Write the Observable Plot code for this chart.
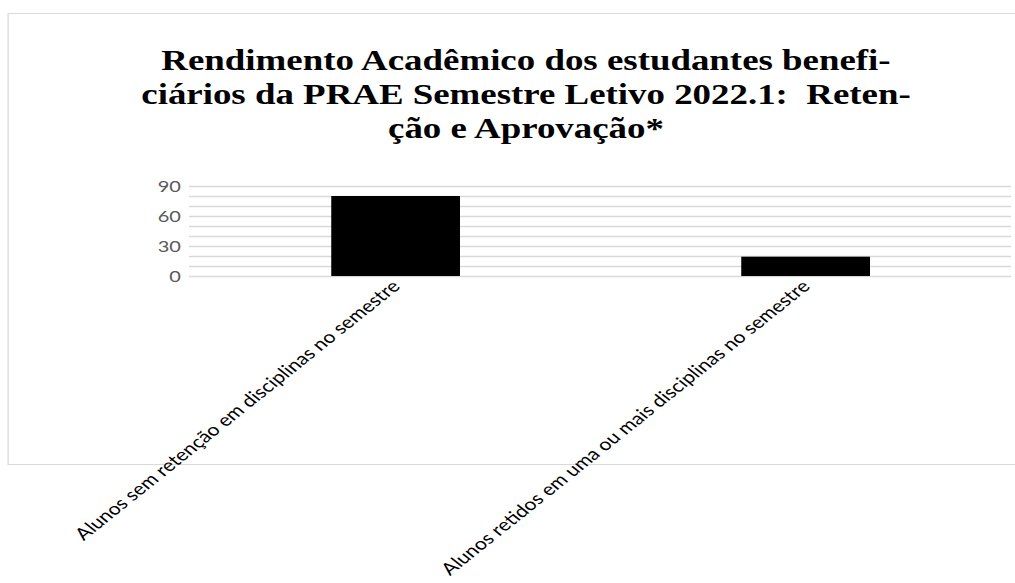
<!DOCTYPE html>
<html>
<head>
<meta charset="utf-8">
<script src="https://cdn.jsdelivr.net/npm/d3@7"></script>
<script src="https://cdn.jsdelivr.net/npm/@observablehq/plot@0.6"></script>
<style>
  html, body { margin: 0; padding: 0; background: #fff; overflow: hidden; }
  #wrap { position: relative; height: 583px; transform-origin: 0 0; }
  #frame { position: absolute; border: 1.5px solid #d9d9d9; box-sizing: border-box; }
  #title { position: absolute; font-family: "Liberation Serif", "Times New Roman", serif; font-weight: bold;
           font-size: 29.5px; line-height: 34px; text-align: center; color: #000; white-space: nowrap; }
  #chart { position: absolute; left: 0; top: 0; }
</style>
</head>
<body>
<div id="wrap">
  <div id="frame"></div>
  <div id="title"></div>
  <div id="chart"></div>
</div>
<script>
const categories = [
  "Alunos sem retenção em disciplinas no semestre",
  "Alunos retidos em uma ou mais disciplinas no semestre"
];
const values = [80, 19.3];
const gridTicks = [0, 10, 20, 30, 40, 50, 60, 70, 80, 90];
const yTickLabels = [0, 30, 60, 90];
const titleLines = [
  "Rendimento Acadêmico dos estudantes benefi-",
  "ciários da PRAE Semestre Letivo 2022.1:\u00a0 Reten-",
  "ção e Aprovação*"
];

const S = 1.25;              // horizontal stretch of the reference picture
const W = 1015 / S;
const wrap = document.getElementById("wrap");
wrap.style.width = W + "px";
wrap.style.transform = `scaleX(${S})`;

const frame = document.getElementById("frame");
frame.style.left = (8 / S) + "px";
frame.style.top = "13px";
frame.style.width = ((1080 - 8) / S) + "px";
frame.style.height = "452px";

const title = document.getElementById("title");
title.innerHTML = titleLines.map(t => `<div>${t}</div>`).join("");
const tcx = 526 / S;
title.style.left = (tcx - 400) + "px";
title.style.width = "800px";
title.style.top = "43px";

const data = categories.map((c, i) => ({cat: c, val: values[i]}));

const chart = Plot.plot({
  width: W,
  height: 583,
  marginTop: 186,
  marginBottom: 583 - 276,
  marginLeft: 189 / S,
  marginRight: 4 / S,
  style: {fontFamily: "Lato, 'Open Sans', sans-serif", fontSize: "16px", background: "transparent", overflow: "visible"},
  x: {domain: categories, paddingInner: 0.686, paddingOuter: 0.343},
  y: {domain: [0, 90]},
  marks: [
    Plot.gridY(gridTicks, {stroke: "#d9d9d9", strokeOpacity: 1, strokeWidth: 1.5}),
    Plot.barY(data, {x: "cat", y: "val", fill: "#000"}),
    Plot.axisY(yTickLabels, {tickSize: 0, tickPadding: 7, fill: "#595959", fontSize: 16, label: null}),
    Plot.axisX({tickSize: 0, tickRotate: -45, tickPadding: 7, fontSize: 17, fill: "#000", label: null})
  ]
});
document.getElementById("chart").appendChild(chart);
</script>
</body>
</html>
